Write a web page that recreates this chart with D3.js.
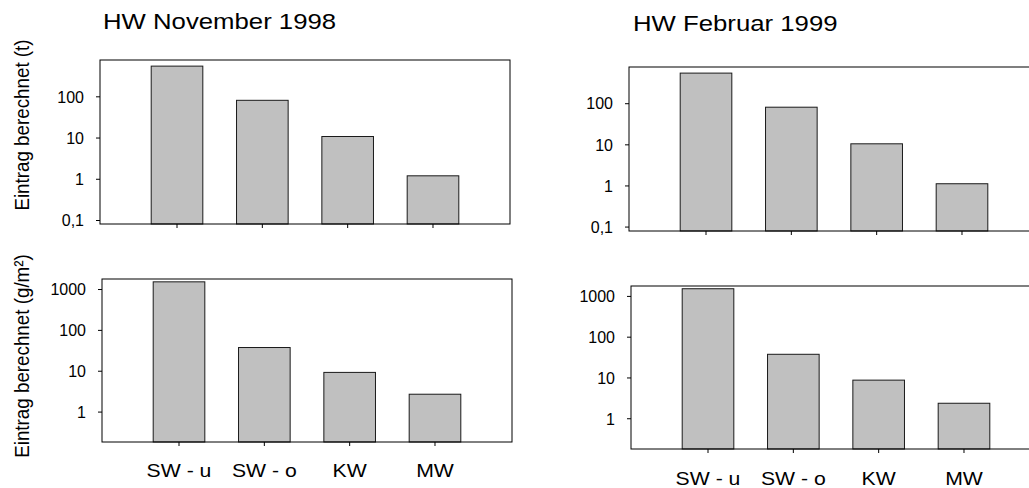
<!DOCTYPE html>
<html><head><meta charset="utf-8">
<script src="https://cdn.jsdelivr.net/npm/d3@7"></script>
<style>
html,body{margin:0;padding:0;background:#fff;}
svg{display:block;font-family:Arial,"Liberation Sans",Helvetica,sans-serif;}
</style></head>
<body>
<svg id="chart" width="1029" height="488"></svg>
<script>
const categories = ["SW - u", "SW - o", "KW", "MW"];
const titles = ["HW November 1998", "HW Februar 1999"];
const yLabels = ["Eintrag berechnet (t)", "Eintrag berechnet (g/m²)"];
const nov1998Tonnes = [540, 80, 10.6, 1.18];
const nov1998Area = [1500, 37, 9.1, 2.66];
const feb1999Tonnes = [540, 80, 10.3, 1.1];
const feb1999Area = [1500, 37, 8.6, 2.33];
const tonnesTicks = [0.1, 1, 10, 100];
const tonnesTickLabels = ["0,1", "1", "10", "100"];
const areaTicks = [1, 10, 100, 1000];
const areaTickLabels = ["1", "10", "100", "1000"];

const svg = d3.select("#chart");
const FONT = "Arial, 'Liberation Sans', sans-serif";

// horizontal stretch of glyphs around their anchor point
function stretch(sel, s) {
  sel.each(function() {
    const t = d3.select(this);
    const x = +t.attr("x") || 0, y = +t.attr("y") || 0;
    t.attr("transform", `translate(${x},${y}) scale(${s},1) translate(${-x},${-y})`);
  });
}

const panels = [
  {x: 100, y: 60, h: 164, data: nov1998Tonnes, dom: [0.08, 760], ticks: tonnesTicks, labels: tonnesTickLabels, cats: false},
  {x: 102, y: 279, h: 163, data: nov1998Area, dom: [0.18, 1760], ticks: areaTicks, labels: areaTickLabels, cats: true, catY: 477},
  {x: 629, y: 67, h: 164, data: feb1999Tonnes, dom: [0.078, 760], ticks: tonnesTicks, labels: tonnesTickLabels, cats: false},
  {x: 631, y: 286, h: 163, data: feb1999Area, dom: [0.176, 1750], ticks: areaTicks, labels: areaTickLabels, cats: true, catY: 485}
];
const W = 410;

panels.forEach(p => {
  const g = svg.append("g").attr("transform", `translate(${p.x},${p.y})`);
  const x = d3.scaleBand().domain(categories).range([0, W]).paddingInner(0.395).paddingOuter(0.6);
  const y = d3.scaleLog().domain(p.dom).range([p.h, 0]);

  g.selectAll("rect.bar").data(p.data).join("rect")
    .attr("class", "bar")
    .attr("x", (d, i) => x(categories[i]))
    .attr("width", x.bandwidth())
    .attr("y", d => y(d))
    .attr("height", d => p.h - y(d))
    .attr("fill", "#c0c0c0")
    .attr("stroke", "#1a1a1a")
    .attr("stroke-width", 1);

  g.append("rect").attr("x", 0).attr("y", 0).attr("width", W).attr("height", p.h)
    .attr("fill", "none").attr("stroke", "#000").attr("stroke-width", 1);

  const yAxis = d3.axisLeft(y).tickValues(p.ticks)
    .tickFormat((d, i) => p.labels[i]).tickSize(4).tickPadding(12);
  const ya = g.append("g").call(yAxis);
  ya.select(".domain").remove();
  ya.selectAll("line").attr("stroke", "#000");
  ya.selectAll("text").attr("font-size", 16).attr("fill", "#000").attr("font-family", FONT)
    .attr("dy", "0.36em");

  const xAxis = d3.axisBottom(x).tickSize(4).tickFormat(p.cats ? (d => d) : (() => ""));
  const xa = g.append("g").attr("transform", `translate(0,${p.h})`).call(xAxis);
  xa.select(".domain").remove();
  xa.selectAll("line").attr("stroke", "#000");
  const xt = xa.selectAll("text").attr("font-size", 18.6).attr("fill", "#000")
    .attr("font-family", FONT)
    .attr("dy", null).attr("y", p.cats ? (p.catY - p.y - p.h) : 0);
  stretch(xt, 1.14);
});

// titles
const t1 = svg.append("text").attr("x", 103).attr("y", 29).attr("font-size", 22).attr("font-family", FONT).text(titles[0]);
const t2 = svg.append("text").attr("x", 633).attr("y", 31).attr("font-size", 22).attr("font-family", FONT).text(titles[1]);
stretch(t1, 1.17);
stretch(t2, 1.17);

// y labels
svg.append("text").attr("transform", "translate(29,125) scale(1.12,1) rotate(-90)").attr("text-anchor", "middle")
  .attr("font-size", 18.8).attr("font-family", FONT).text(yLabels[0]);
svg.append("text").attr("transform", "translate(29,356) scale(1.12,1) rotate(-90)").attr("text-anchor", "middle")
  .attr("font-size", 18.8).attr("font-family", FONT).text(yLabels[1]);
</script>
</body></html>
